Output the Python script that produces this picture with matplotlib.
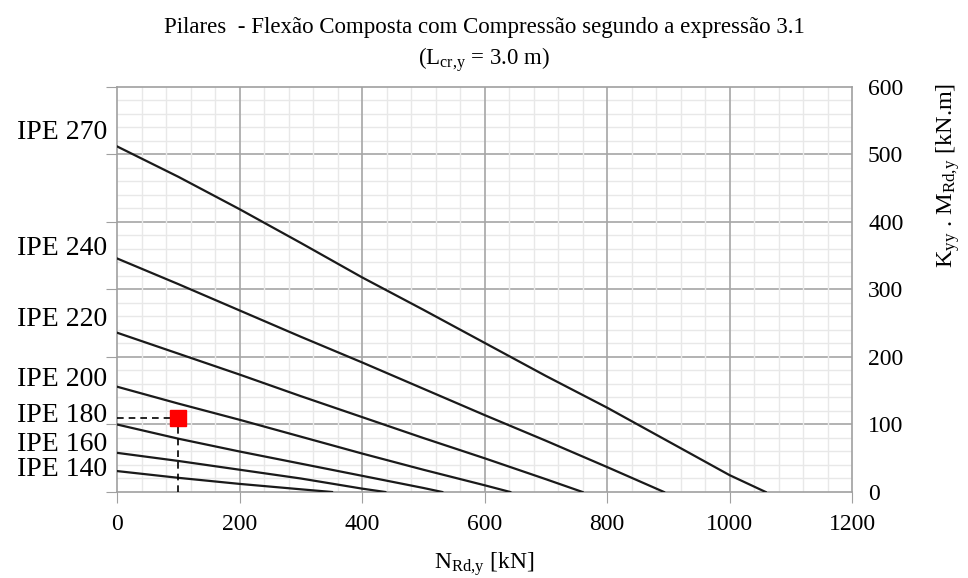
import matplotlib
matplotlib.use('Agg')
import matplotlib.pyplot as plt
import numpy as np

plt.rcParams['font.family'] = ['Liberation Serif', 'DejaVu Serif']
plt.rcParams['mathtext.fontset'] = 'custom'
plt.rcParams['mathtext.rm'] = 'Liberation Serif'
plt.rcParams['mathtext.it'] = 'Liberation Serif:italic'

# curvas de interacao N - M para cada perfil
perfis = ['IPE 270', 'IPE 240', 'IPE 220', 'IPE 200', 'IPE 180', 'IPE 160', 'IPE 140']

n_270 = [0, 100, 200, 300, 400, 500, 600, 700, 800, 900, 1000, 1059]
m_270 = [512, 467, 419, 369, 318, 270, 221, 172, 125, 75, 25, 0]

n_240 = [0, 100, 200, 300, 400, 500, 600, 700, 800, 893]
m_240 = [346, 308, 269, 230, 192, 153, 114, 76, 37, 0]

n_220 = [0, 100, 200, 300, 400, 500, 600, 700, 760]
m_220 = [236, 205, 174, 142, 111, 80, 50, 19, 0]

n_200 = [0, 100, 200, 300, 400, 500, 600, 642]
m_200 = [156, 131, 107, 82, 57, 33, 10, 0]

n_180 = [0, 100, 200, 300, 400, 500, 531]
m_180 = [100, 79, 60, 42, 24, 6, 0]

n_160 = [0, 100, 200, 300, 400, 438]
m_160 = [58, 46, 33, 20, 5, 0]

n_140 = [0, 100, 200, 300, 351]
m_140 = [31, 21, 12, 4, 0]

curvas_n = [n_270, n_240, n_220, n_200, n_180, n_160, n_140]
curvas_m = [m_270, m_240, m_220, m_200, m_180, m_160, m_140]

# altura dos rotulos (eixo y)
rotulo_y = [532, 361, 255, 166, 114, 71, 33]

# ponto de calculo
ponto_n = 100
ponto_m = 110

fig = plt.figure(figsize=(9.68, 5.78), dpi=100)
ax = fig.add_axes([0.1209, 0.1488, 0.7593, 0.7007])
ax.set_xlim(0, 1200)
ax.set_ylim(0, 600)

# grelha desenhada a mao: as verticais secundarias cortam as horizontais principais
for y in np.arange(20, 600, 20):
    if y % 100:
        ax.axhline(y, color='#e8e8e8', lw=1.0, zorder=0)
for y in np.arange(100, 600, 100):
    ax.axhline(y, color='#a6a6a6', lw=1.2, zorder=0.5)
for x in np.arange(40, 1200, 40):
    if x % 200:
        ax.axvline(x, color='#e8e8e8', lw=1.0, zorder=0.7)
for x in np.arange(200, 1200, 200):
    ax.axvline(x, color='#a6a6a6', lw=1.2, zorder=0.9)

for n, m in zip(curvas_n, curvas_m):
    ax.plot(n, m, color='#1a1a1a', lw=1.6, zorder=3)

for nome, yy in zip(perfis, rotulo_y):
    ax.text(-16, yy, nome, ha='right', va='center', fontsize=20, clip_on=False)

ax.plot([0, ponto_n], [ponto_m, ponto_m], color='black', lw=1.2, ls=(0, (4, 3)), zorder=4)
ax.plot([ponto_n, ponto_n], [0, ponto_m], color='black', lw=1.2, ls=(0, (4, 3)), zorder=4)
ax.plot(ponto_n, ponto_m, marker='s', ms=11, color='red', mec='red', zorder=5)

ax.set_xticks(np.arange(0, 1201, 200))
ax.set_yticks(np.arange(0, 601, 100))

for s in ax.spines.values():
    s.set_color('#a0a0a0')
    s.set_linewidth(1.2)

ax.tick_params(axis='x', direction='out', length=8, color='#a0a0a0', labelsize=17, pad=8)
ax.tick_params(axis='y', left=True, right=False, labelleft=False, labelright=True,
               direction='out', length=8, color='#a0a0a0', labelsize=17, pad=3.5)

ax.set_xlabel(r'N$_{\mathrm{Rd{,}y}}$ [kN]', fontsize=17, labelpad=11)

fig.text(948 / 968, 1 - 83 / 578, r'K$_{\mathrm{yy}}$ . M$_{\mathrm{Rd{,}y}}$ [kN.m]',
         rotation=90, ha='center', va='top', fontsize=17.5)

fig.text(0.5, 1 - 28 / 578, 'Pilares  - Flexão Composta com Compressão segundo a expressão 3.1',
         ha='center', va='center', fontsize=16.5)
fig.text(0.5, 1 - 60 / 578, r'(L$_{\mathrm{cr{,}y}}$ = 3.0 m)',
         ha='center', va='center', fontsize=16.5)

fig.savefig('out.png', dpi=100)
